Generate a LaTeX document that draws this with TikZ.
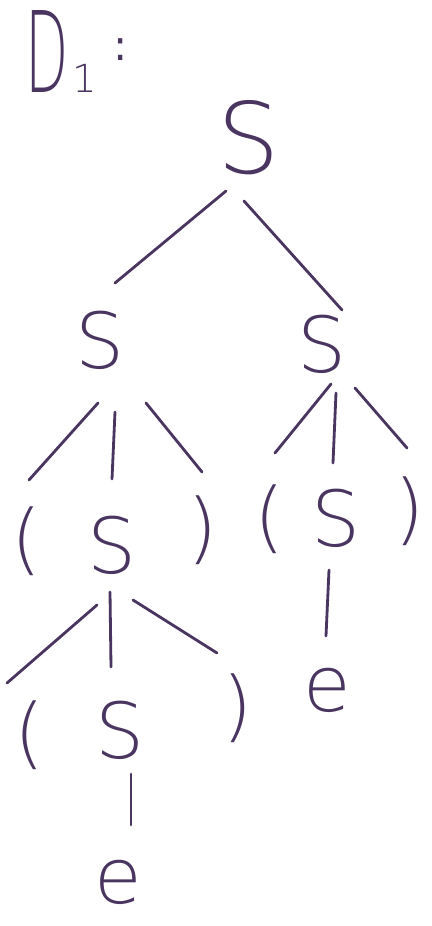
\documentclass[tikz,border=0pt]{standalone}
\usepackage{fontspec}
\setmainfont{DejaVu Sans}[UprightFont={* ExtraLight}]
\newfontfamily\inkreg{DejaVu Sans}
\usepackage{tikz}
\definecolor{ink}{HTML}{4A3560}

\begin{document}
\begin{tikzpicture}[
  sym/.style={text=ink,font=\fontsize{44}{48}\selectfont,inner sep=1pt},
  big/.style={sym,font=\fontsize{56}{60}\selectfont},
  br/.style={draw=ink,line width=1.6pt,line cap=round}]
\useasboundingbox (0,0) rectangle (8.62,-18.52);

\node[sym,anchor=base west,inner sep=0pt] (name) at (0.50,-1.84)
  {\fontsize{64}{64}\selectfont\scalebox{0.5}[1]{D}\hspace{0.03em}{\fontsize{22}{22}\selectfont 1}\hspace{0.34cm}\raisebox{0.64cm}{\inkreg\fontsize{24}{24}\selectfont :}};

% root and first level
\node[big] (root) at (4.98,-2.76) {S};
\node[sym] (sL)   at (2.00,-6.80) {S};
\node[sym] (sR)   at (6.44,-6.88) {S};

% left subtree
\node[sym] (lpA) at (0.54,-10.82) {(};
\node[sym] (sA)  at (2.24,-10.90) {S};
\node[sym] (rpA) at (4.06,-10.60) {)};
\node[sym] (lpB) at (0.60,-14.70) {(};
\node[sym] (sB)  at (2.40,-14.60) {S};
\node[sym] (rpB) at (4.76,-14.16) {)};
\node[sym] (eB)  at (2.36,-17.64) {e};

% right subtree
\node[sym] (lpR) at (5.40,-10.38) {(};
\node[sym] (sRR) at (6.72,-10.36) {S};
\node[sym] (rpR) at (8.20,-10.22) {)};
\node[sym] (eR)  at (6.54,-13.80) {e};

% branches leave and reach the symbols a little off centre, as drawn
\draw[br] ([shift={(-0.46,-1.06)}]root.center) -- ([shift={(0.30,1.14)}]sL.center);
\draw[br] ([shift={(-0.10,-1.26)}]root.center) -- ([shift={(0.40,0.68)}]sR.center);

\draw[br] ([shift={(-0.04,-1.26)}]sL.center) -- ([shift={(0.04,1.22)}]lpA.center);
\draw[br] ([shift={(0.30,-1.44)}]sL.center)  -- ([shift={(0.00,1.32)}]sA.center);
\draw[br] ([shift={(0.92,-1.26)}]sL.center)  -- ([shift={(-0.02,1.16)}]rpA.center);
\draw[br] ([shift={(-0.30,-1.20)}]sA.center) -- ([shift={(-0.46,1.04)}]lpB.center);
\draw[br] ([shift={(-0.04,-0.94)}]sA.center) -- ([shift={(-0.18,1.26)}]sB.center);
\draw[br] ([shift={(0.42,-1.10)}]sA.center)  -- ([shift={(-0.42,1.10)}]rpB.center);
\draw[br] ([shift={(0.22,-0.88)}]sB.center)  -- ([shift={(0.26,1.14)}]eB.center);

\draw[br] ([shift={(0.18,-0.80)}]sR.center)  -- ([shift={(0.10,1.32)}]lpR.center);
\draw[br] ([shift={(0.28,-0.98)}]sR.center)  -- ([shift={(-0.06,1.10)}]sRR.center);
\draw[br] ([shift={(0.66,-0.88)}]sR.center)  -- ([shift={(-0.06,1.26)}]rpR.center);
\draw[br] ([shift={(-0.14,-1.04)}]sRR.center) -- ([shift={(-0.02,1.08)}]eR.center);
\end{tikzpicture}
\end{document}
